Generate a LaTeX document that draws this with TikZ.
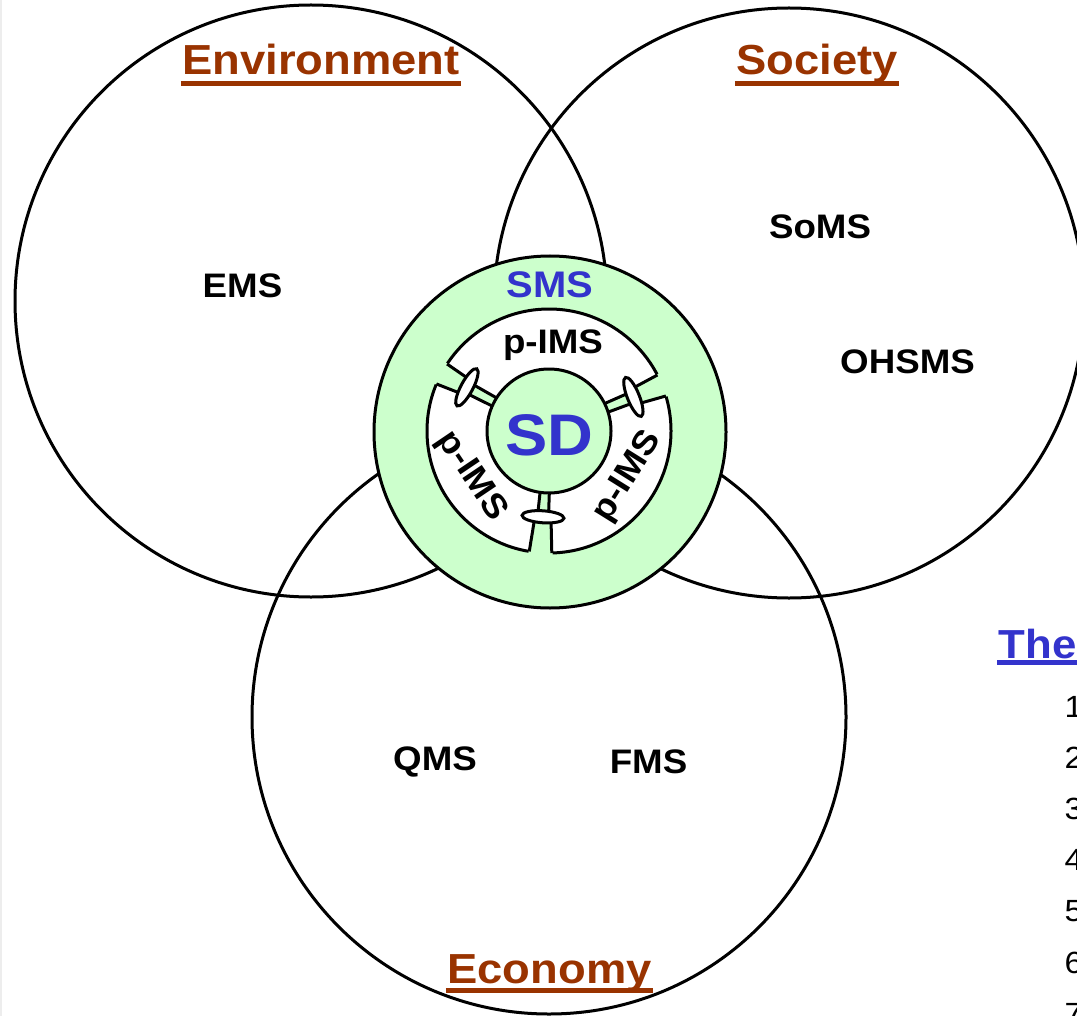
\documentclass[tikz,border=0pt]{standalone}
\usepackage{fontspec}
\setmainfont{Liberation Sans}[FakeStretch=1.08]
\definecolor{brn}{HTML}{993300}
\definecolor{blu}{HTML}{3333CC}
\definecolor{lgr}{HTML}{CCFFCC}
\newcommand\mygap[2]{%
 \begin{scope}[shift={(549,431)},rotate=#1]
  \fill[lgr] (#2,-8) -- (126,-12.5) -- (126,12.5) -- (#2,8) -- cycle;
  \draw (#2,-8) -- (121.5,-11.3) (#2,8) -- (121.5,11.3);
  \fill[lgr] (55,-4.5) -- (#2,-5.5) -- (#2,5.5) -- (55,4.5) -- cycle;
  \draw (58,-4.5) -- (#2,-5.5) (58,4.5) -- (#2,5.5);
  \draw[fill=white] (#2,0) ellipse [x radius=4.5pt, y radius=15.75pt];
 \end{scope}}
\begin{document}
\begin{tikzpicture}[x=0.75pt,y=-0.75pt,line width=2.25pt,
  ttl/.style={font=\fontsize{31.5}{36}\selectfont\bfseries, text=brn, inner sep=0pt, anchor=base},
  lbl/.style={font=\fontsize{25.5}{30}\selectfont\bfseries, inner sep=0pt, anchor=base},
  bl/.style={text=blu},
  num/.style={font=\fontsize{23}{27}\selectfont, inner sep=0pt, anchor=base west},
  uline/.style={line width=3.75pt}]
\useasboundingbox (0,0) rectangle (1077,1016);
\clip (0,0) rectangle (1077,1016);
\fill[white] (0,0) rectangle (1077,1016);
\draw[line width=1.5pt, black!7] (1,0) -- (1,1016);
% three big circles
\draw (311,301) circle[radius=222pt];
\draw (789,303) circle[radius=221.25pt];
\draw (549,717) circle[radius=222.75pt];
% SMS circle
\draw[fill=lgr] (550,432) circle[radius=132pt];
% ring of p-IMS
\draw[fill=white] (549,431) circle[radius=91.5pt];
\mygap{152}{93}
\mygap{22}{91}
\mygap{-94}{86}
% SD circle
\draw[fill=lgr] (549,431) circle[radius=46.5pt];
% titles
\node[ttl] (env) at (321,75) {Environment};
\draw[brn,uline] ([yshift=-6.75pt]env.base west) -- ([yshift=-6.75pt]env.base east);
\node[ttl] (soc) at (817,75) {Society};
\draw[brn,uline] ([yshift=-6.75pt]soc.base west) -- ([yshift=-6.75pt]soc.base east);
\node[ttl] (eco) at (549.5,983) {Economy};
\draw[brn,uline] ([yshift=-5.25pt]eco.base west) -- ([yshift=-5.25pt]eco.base east);
% labels
\node[lbl] (ems) at (242.5,297.3) {EMS};
\node[lbl] (soms) at (820,238.3) {SoMS};
\node[lbl] (ohsms) at (907.5,373.3) {OHSMS};
\node[lbl] (qms) at (435,770) {QMS};
\node[lbl] (fms) at (648.5,773) {FMS};
\node[lbl,bl,font=\fontsize{27.75}{32}\selectfont\bfseries] (sms) at (549.7,297) {SMS};
\node[lbl] (pt) at (553,353.3) {p-IMS};
\node[lbl,anchor=center,rotate=-56] (pl) at (471.5,476.5) {p-IMS};
\node[lbl,anchor=center,rotate=58] (pr) at (628,477) {p-IMS};
\node[lbl,bl,font=\fontsize{44}{50}\selectfont\bfseries] (sd) at (549.5,455) {SD};
% right list
\node[lbl,bl,font=\fontsize{30.4}{35}\selectfont\bfseries,anchor=base west] (the) at (997,658) {The};
\draw[blu,uline] (997,662.5) -- (1080,662.5);
\node[num] (n1) at (1063,717) {1};
\node[num] (n2) at (1063,768.2) {2};
\node[num] (n3) at (1063,819.4) {3};
\node[num] (n4) at (1063,870.6) {4};
\node[num] (n5) at (1063,921.8) {5};
\node[num] (n6) at (1063,973) {6};
\node[num] (n7) at (1063,1024.2) {7};
\end{tikzpicture}
\end{document}
